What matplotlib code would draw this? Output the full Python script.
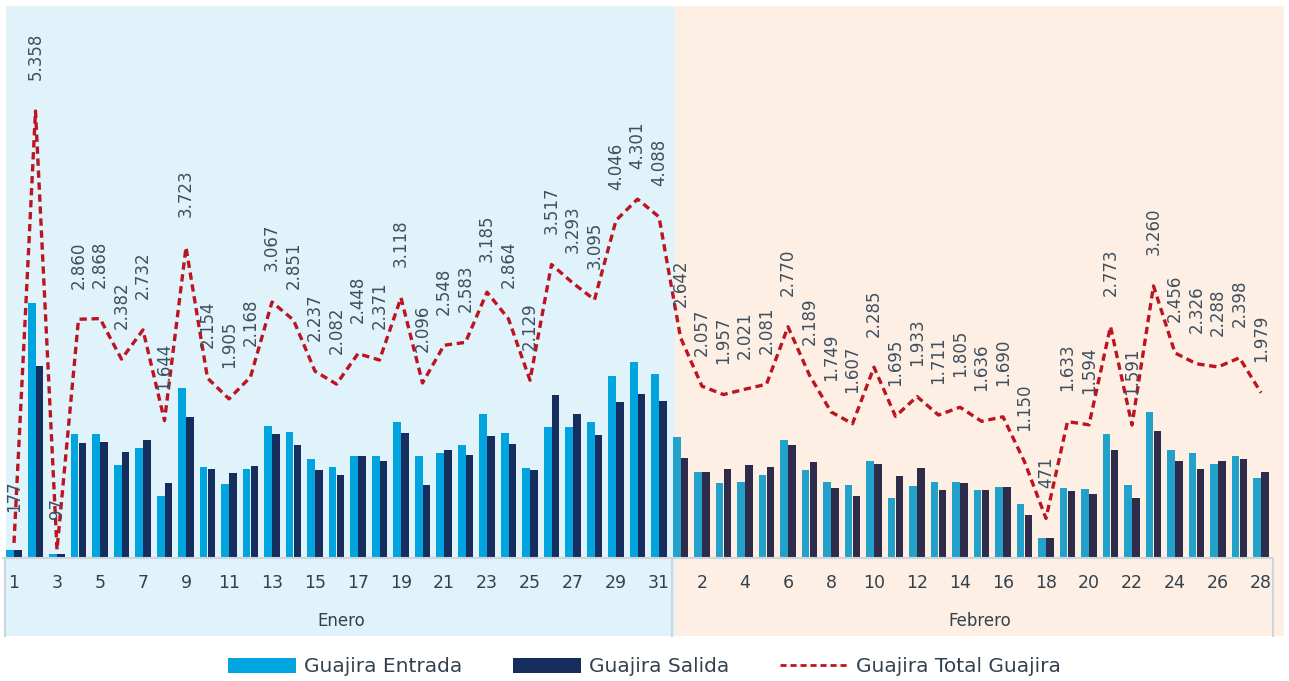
import numpy as np
import matplotlib
matplotlib.use("Agg")
from matplotlib import pyplot as plt
from matplotlib.patches import Patch, Rectangle
from matplotlib.lines import Line2D
import matplotlib.transforms as mtransforms

# daily values (Enero then Febrero)
dias_enero = list(range(1, 32))
dias_febrero = list(range(1, 29))

entrada_enero = [90, 3060, 48, 1480, 1480, 1110, 1318, 742, 2040, 1093, 889, 1068, 1582, 1505,
                 1183, 1089, 1224, 1217, 1623, 1225, 1258, 1357, 1720, 1496, 1080, 1566, 1566,
                 1628, 2183, 2343, 2204]
salida_enero = [87, 2298, 49, 1380, 1388, 1272, 1414, 902, 1683, 1061, 1016, 1100, 1485, 1346,
                1054, 993, 1224, 1154, 1495, 871, 1290, 1226, 1465, 1368, 1049, 1951, 1727,
                1467, 1863, 1958, 1884]
total_enero = [177, 5358, 97, 2860, 2868, 2382, 2732, 1644, 3723, 2154, 1905, 2168, 3067, 2851,
               2237, 2082, 2448, 2371, 3118, 2096, 2548, 2583, 3185, 2864, 2129, 3517, 3293,
               3095, 4046, 4301, 4088]

entrada_febrero = [1450, 1029, 898, 913, 992, 1417, 1047, 907, 868, 1159, 716, 855, 904, 903,
                   818, 845, 640, 236, 833, 829, 1484, 877, 1743, 1293, 1260, 1128, 1215, 957]
salida_febrero = [1192, 1028, 1059, 1108, 1089, 1353, 1142, 842, 739, 1126, 979, 1078, 807, 902,
                  818, 845, 510, 235, 800, 765, 1289, 714, 1517, 1163, 1066, 1160, 1183, 1022]
total_febrero = [2642, 2057, 1957, 2021, 2081, 2770, 2189, 1749, 1607, 2285, 1695, 1933, 1711,
                 1805, 1636, 1690, 1150, 471, 1633, 1594, 2773, 1591, 3260, 2456, 2326, 2288,
                 2398, 1979]

entrada = entrada_enero + entrada_febrero
salida = salida_enero + salida_febrero
total = total_enero + total_febrero
dias = dias_enero + dias_febrero
n_ene = len(dias_enero)

x = np.arange(len(dias))
texto = '#33414F'

fig = plt.figure(figsize=(12.89, 6.81), dpi=100)
ax = fig.add_axes([3.25 / 1289, 1 - 557.7 / 681, 1268.5 / 1289, 551.7 / 681])
ax.set_xlim(-0.5, len(dias) - 0.5)
ax.set_ylim(0, 551.7 / 0.08337)
ax.set_facecolor('none')

# month backgrounds (extend below the axis into the label band)
trans = mtransforms.blended_transform_factory(ax.transData, ax.transAxes)
bg_bottom = (557.7 - 636) / 551.7
ax.add_patch(Rectangle((-0.38, bg_bottom), n_ene - 0.5 + 0.38 + 0.25, 1 - bg_bottom,
                       transform=trans, facecolor='#E0F2FA', edgecolor='none',
                       clip_on=False, zorder=0))
ax.add_patch(Rectangle((n_ene - 0.5 + 0.25, bg_bottom), len(dias) - n_ene + 0.3, 1 - bg_bottom,
                       transform=trans, facecolor='#FDEFE3', edgecolor='none',
                       clip_on=False, zorder=0))

# bars
w = 0.37
col_e = ['#00A5DF' if i < n_ene else '#22A2CA' for i in x]
col_s = ['#152E5E' if i < n_ene else '#2E2B4B' for i in x]
ax.bar(x - w / 2, entrada, width=w, color=col_e, zorder=2)
ax.bar(x + w / 2, salida, width=w, color=col_s, zorder=2)

# total line
ax.plot(x, total, color='#BC1420', linestyle=(0, (2.2, 1.4)), linewidth=2.4, zorder=3)
for xi, t in zip(x, total):
    etiqueta = f"{t:,}".replace(",", ".")
    ax.annotate(etiqueta, (xi, t), xytext=(0, 22), textcoords='offset points',
                rotation=90, ha='center', va='bottom', fontsize=12, color='#3E4F60',
                zorder=4)

# axis lines
for s in ['top', 'right', 'left']:
    ax.spines[s].set_visible(False)
ax.spines['bottom'].set_color('#CCD6DC')
ax.spines['bottom'].set_linewidth(1.5)
ax.set_yticks([])
ax.set_xticks(x[::2])
ax.set_xticklabels([str(d) for d in dias][::2], fontsize=12.5, color=texto)
ax.tick_params(axis='x', length=0, pad=12)

for xs in [-0.4, n_ene - 0.5 + 0.1, len(dias) - 0.5 + 0.05]:
    ax.plot([xs, xs], [0, bg_bottom], transform=trans, color='#CCD6DC', linewidth=1.5,
            clip_on=False, zorder=1)

ax.text((n_ene - 1) / 2 + 0.2, (557.7 - 621) / 551.7, 'Enero', transform=trans,
        ha='center', va='center', fontsize=12, color=texto)
ax.text(n_ene + (len(dias) - n_ene - 1) / 2 + 0.4, (557.7 - 621) / 551.7, 'Febrero',
        transform=trans, ha='center', va='center', fontsize=12, color=texto)

handles = [Patch(facecolor='#00A5DF'), Patch(facecolor='#152E5E'),
           Line2D([], [], color='#C0141C', linestyle=(0, (2.2, 1.4)), linewidth=2)]
fig.legend(handles, ['Guajira Entrada', 'Guajira Salida', 'Guajira Total Guajira'],
           loc='center', bbox_to_anchor=(0.5, 1 - 667 / 681), ncol=3, frameon=False,
           fontsize=14.5, handlelength=3.4, handleheight=0.7, columnspacing=2.5,
           labelcolor=texto, handletextpad=0.4)

fig.savefig('out.png', dpi=100)
